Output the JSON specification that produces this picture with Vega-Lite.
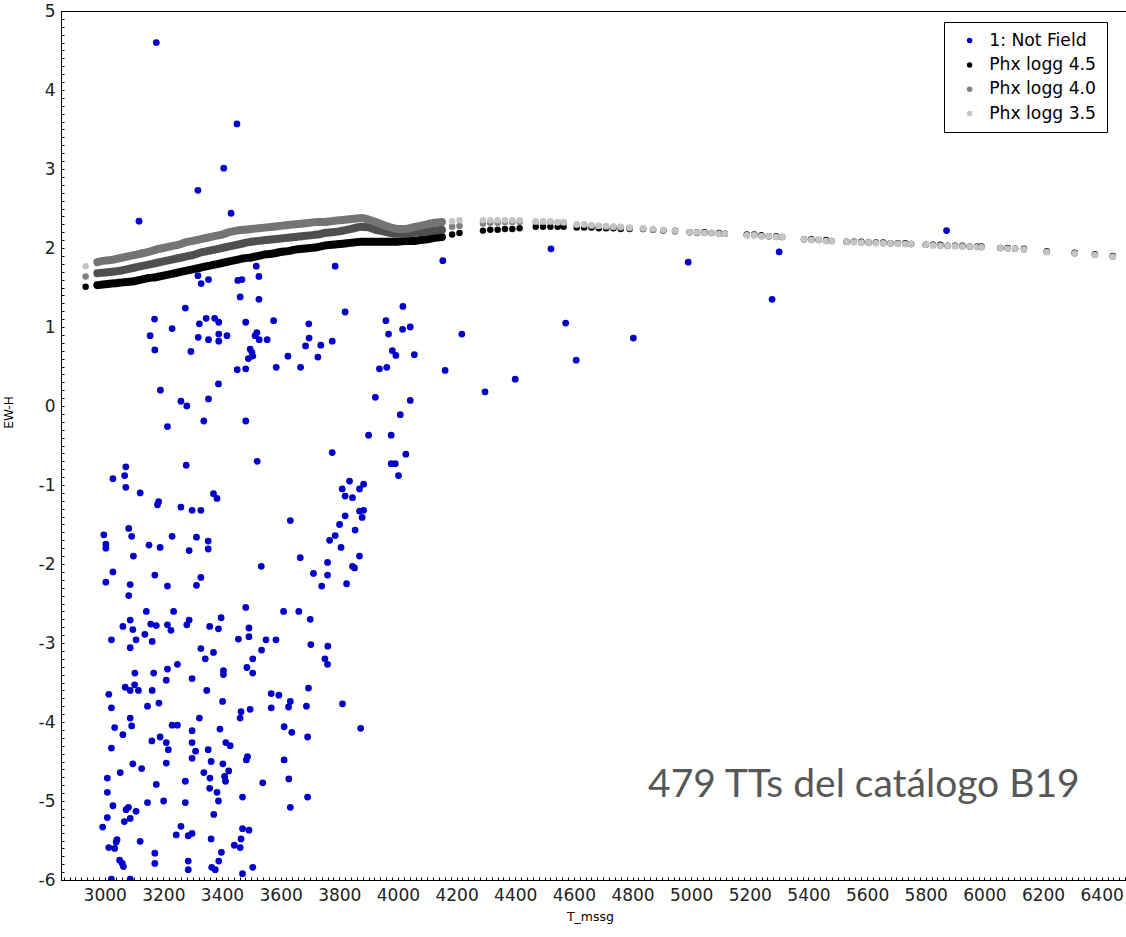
{
  "$schema": "https://vega.github.io/schema/vega-lite/v6.json",
  "autosize": {"type": "none"},
  "padding": {"left": 61, "top": 11, "right": 0, "bottom": 57},
  "width": 1070,
  "height": 869,
  "background": "#ffffff",
  "config": {
    "font": "DejaVu Sans",
    "view": {"stroke": "#000000", "strokeWidth": 1}
  },
  "datasets": {
    "tts": [
      {"T":3176,"e":4.60},{"T":3451,"e":3.57},{"T":3406,"e":3.01},{"T":3318,"e":2.73},{"T":3117,"e":2.34},{"T":3431,"e":2.44},
      {"T":4522,"e":1.99},{"T":4990,"e":1.82},{"T":5300,"e":1.95},{"T":5276,"e":1.35},{"T":4218,"e":0.91},{"T":4572,"e":1.05},
      {"T":4608,"e":0.58},{"T":4803,"e":0.86},{"T":4400,"e":0.34},{"T":4297,"e":0.18},{"T":5871,"e":2.22},
      {"T":3517,"e":1.77},{"T":3786,"e":1.77},{"T":4153,"e":1.84},{"T":3318,"e":1.65},{"T":3354,"e":1.60},{"T":3329,"e":1.55},
      {"T":3454,"e":1.59},{"T":3468,"e":1.60},{"T":3526,"e":1.64},{"T":3462,"e":1.38},{"T":3526,"e":1.35},{"T":3275,"e":1.24},
      {"T":3820,"e":1.19},{"T":4017,"e":1.26},{"T":3170,"e":1.10},{"T":3230,"e":0.98},{"T":3346,"e":1.11},{"T":3375,"e":1.11},
      {"T":3389,"e":1.06},{"T":3323,"e":1.04},{"T":3481,"e":1.06},{"T":3576,"e":1.08},{"T":3696,"e":1.04},{"T":3959,"e":1.08},
      {"T":4042,"e":1.00},{"T":4016,"e":0.97},{"T":3155,"e":0.89},{"T":3319,"e":0.87},{"T":3354,"e":0.84},{"T":3389,"e":0.91},
      {"T":3389,"e":0.82},{"T":3417,"e":0.89},{"T":3513,"e":0.89},{"T":3519,"e":0.93},{"T":3527,"e":0.84},{"T":3554,"e":0.84},
      {"T":3697,"e":0.86},{"T":3685,"e":0.76},{"T":3737,"e":0.77},{"T":3776,"e":0.82},{"T":3968,"e":0.91},{"T":3171,"e":0.71},
      {"T":3294,"e":0.69},{"T":3496,"e":0.72},{"T":3502,"e":0.68},{"T":3490,"e":0.60},{"T":3505,"e":0.63},{"T":3625,"e":0.63},
      {"T":3727,"e":0.62},{"T":3981,"e":0.70},{"T":3993,"e":0.64},{"T":4056,"e":0.65},{"T":3452,"e":0.46},{"T":3481,"e":0.47},
      {"T":3585,"e":0.49},{"T":3668,"e":0.49},{"T":3937,"e":0.47},{"T":3962,"e":0.49},{"T":4161,"e":0.45},{"T":3388,"e":0.28},
      {"T":3190,"e":0.20},{"T":3354,"e":0.09},{"T":3260,"e":0.06},{"T":3280,"e":0.00},{"T":3923,"e":0.11},{"T":4042,"e":0.07},
      {"T":4008,"e":-0.11},{"T":3214,"e":-0.26},{"T":3338,"e":-0.19},{"T":3481,"e":-0.19},
      {"T":3900,"e":-0.37},{"T":3977,"e":-0.37},{"T":3776,"e":-0.59},{"T":4027,"e":-0.61},{"T":3520,"e":-0.70},{"T":3977,"e":-0.73},
      {"T":3991,"e":-0.73},{"T":4002,"e":-0.88},{"T":3072,"e":-0.77},{"T":3068,"e":-0.88},{"T":3028,"e":-0.92},{"T":3072,"e":-1.03},
      {"T":3278,"e":-0.75},{"T":3121,"e":-1.10},{"T":3371,"e":-1.11},{"T":3383,"e":-1.17},{"T":3184,"e":-1.21},{"T":3180,"e":-1.25},
      {"T":3260,"e":-1.28},{"T":3298,"e":-1.32},{"T":3328,"e":-1.32},{"T":3835,"e":-0.95},{"T":3810,"e":-1.05},{"T":3883,"e":-0.99},
      {"T":3869,"e":-1.05},{"T":3820,"e":-1.14},{"T":3845,"e":-1.16},{"T":3869,"e":-1.33},{"T":3883,"e":-1.32},{"T":3878,"e":-1.41},
      {"T":3820,"e":-1.39},{"T":3801,"e":-1.50},{"T":3633,"e":-1.45},{"T":3854,"e":-1.57},{"T":3786,"e":-1.64},{"T":3767,"e":-1.70},
      {"T":3806,"e":-1.79},{"T":3869,"e":-1.90},{"T":3667,"e":-1.92},{"T":3534,"e":-2.03},{"T":3845,"e":-2.03},{"T":3852,"e":-2.05},
      {"T":3760,"e":-1.98},{"T":3712,"e":-2.12},{"T":3760,"e":-2.14},{"T":3740,"e":-2.28},{"T":3825,"e":-2.25},{"T":2997,"e":-1.63},
      {"T":3004,"e":-1.75},{"T":3004,"e":-1.80},{"T":3082,"e":-1.55},{"T":3092,"e":-1.65},{"T":3098,"e":-1.90},{"T":3028,"e":-2.10},
      {"T":3004,"e":-2.23},{"T":3087,"e":-2.26},{"T":3082,"e":-2.40},{"T":3151,"e":-1.76},{"T":3189,"e":-1.79},{"T":3230,"e":-1.65},
      {"T":3288,"e":-1.83},{"T":3313,"e":-1.66},{"T":3353,"e":-1.71},{"T":3353,"e":-1.81},{"T":3171,"e":-2.14},{"T":3214,"e":-2.28},
      {"T":3313,"e":-2.27},{"T":3328,"e":-2.17},{"T":3481,"e":-2.55},{"T":3142,"e":-2.60},{"T":3235,"e":-2.60},{"T":3610,"e":-2.60},
      {"T":3662,"e":-2.60},{"T":3397,"e":-2.68},{"T":3701,"e":-2.70},{"T":3087,"e":-2.71},{"T":3288,"e":-2.71},
      {"T":3062,"e":-2.79},{"T":3096,"e":-2.83},{"T":3157,"e":-2.76},{"T":3176,"e":-2.78},{"T":3214,"e":-2.77},{"T":3226,"e":-2.84},
      {"T":3280,"e":-2.77},{"T":3358,"e":-2.79},{"T":3388,"e":-2.82},{"T":3492,"e":-2.81},{"T":3023,"e":-2.96},{"T":3137,"e":-2.89},
      {"T":3107,"e":-2.96},{"T":3162,"e":-2.98},{"T":3087,"e":-3.06},{"T":3456,"e":-2.95},{"T":3492,"e":-2.92},{"T":3550,"e":-2.96},
      {"T":3584,"e":-2.96},{"T":3703,"e":-3.02},{"T":3761,"e":-3.04},{"T":3328,"e":-3.07},{"T":3371,"e":-3.12},{"T":3535,"e":-3.09},
      {"T":3343,"e":-3.20},{"T":3505,"e":-3.20},{"T":3751,"e":-3.20},{"T":3760,"e":-3.27},{"T":3248,"e":-3.27},{"T":3214,"e":-3.33},
      {"T":3485,"e":-3.31},{"T":3103,"e":-3.38},{"T":3167,"e":-3.38},{"T":3405,"e":-3.35},{"T":3405,"e":-3.40},{"T":3505,"e":-3.38},
      {"T":3210,"e":-3.47},{"T":3298,"e":-3.45},{"T":3070,"e":-3.56},{"T":3102,"e":-3.53},{"T":3087,"e":-3.60},{"T":3115,"e":-3.60},
      {"T":3162,"e":-3.60},{"T":3348,"e":-3.60},{"T":3695,"e":-3.57},{"T":3014,"e":-3.65},{"T":3568,"e":-3.64},{"T":3594,"e":-3.66},
      {"T":3633,"e":-3.74},{"T":3627,"e":-3.81},{"T":3402,"e":-3.74},{"T":3023,"e":-3.82},{"T":3146,"e":-3.80},{"T":3185,"e":-3.76},
      {"T":3568,"e":-3.82},{"T":3688,"e":-3.80},{"T":3496,"e":-3.84},{"T":3465,"e":-3.87},{"T":3462,"e":-3.95},{"T":3811,"e":-3.77},
      {"T":3087,"e":-3.95},{"T":3323,"e":-3.95},{"T":3034,"e":-4.07},{"T":3092,"e":-4.05},{"T":3230,"e":-4.04},{"T":3248,"e":-4.04},
      {"T":3298,"e":-4.11},{"T":3393,"e":-4.09},{"T":3612,"e":-4.06},{"T":3638,"e":-4.13},{"T":3873,"e":-4.08},{"T":3692,"e":-4.19},
      {"T":3062,"e":-4.16},{"T":3161,"e":-4.24},{"T":3189,"e":-4.19},{"T":3210,"e":-4.26},{"T":3217,"e":-4.35},{"T":3298,"e":-4.26},
      {"T":3310,"e":-4.37},{"T":3413,"e":-4.26},{"T":3428,"e":-4.30},{"T":3353,"e":-4.35},{"T":3298,"e":-4.46},{"T":3023,"e":-4.33},
      {"T":3487,"e":-4.44},{"T":3483,"e":-4.48},{"T":3612,"e":-4.48},{"T":3096,"e":-4.53},{"T":3126,"e":-4.59},{"T":3210,"e":-4.52},
      {"T":3363,"e":-4.50},{"T":3403,"e":-4.53},{"T":3053,"e":-4.64},{"T":3009,"e":-4.71},{"T":3176,"e":-4.79},{"T":3275,"e":-4.75},
      {"T":3338,"e":-4.64},{"T":3359,"e":-4.71},{"T":3409,"e":-4.69},{"T":3423,"e":-4.62},{"T":3412,"e":-4.75},{"T":3539,"e":-4.77},
      {"T":3628,"e":-4.72},{"T":3009,"e":-4.89},{"T":3358,"e":-4.84},{"T":3383,"e":-4.89},{"T":3028,"e":-5.06},{"T":3146,"e":-5.02},
      {"T":3201,"e":-5.00},{"T":3275,"e":-5.02},{"T":3388,"e":-5.00},{"T":3470,"e":-4.95},{"T":3692,"e":-4.95},{"T":3633,"e":-5.08},
      {"T":3081,"e":-5.08},{"T":3073,"e":-5.11},{"T":3107,"e":-5.13},{"T":3009,"e":-5.21},{"T":3087,"e":-5.22},{"T":3067,"e":-5.26},
      {"T":3372,"e":-5.17},{"T":2993,"e":-5.33},{"T":3260,"e":-5.32},{"T":3244,"e":-5.43},{"T":3285,"e":-5.44},{"T":3298,"e":-5.41},
      {"T":3470,"e":-5.35},{"T":3492,"e":-5.37},{"T":3363,"e":-5.48},{"T":3042,"e":-5.49},{"T":3039,"e":-5.52},{"T":3121,"e":-5.51},
      {"T":3014,"e":-5.59},{"T":3034,"e":-5.60},{"T":3442,"e":-5.56},{"T":3462,"e":-5.59},{"T":3465,"e":-5.48},{"T":3171,"e":-5.66},
      {"T":3398,"e":-5.65},{"T":3051,"e":-5.75},{"T":3060,"e":-5.79},{"T":3064,"e":-5.83},{"T":3171,"e":-5.79},{"T":3285,"e":-5.76},
      {"T":3285,"e":-5.87},{"T":3389,"e":-5.76},{"T":3365,"e":-5.84},{"T":3377,"e":-5.87},{"T":3505,"e":-5.84},{"T":3470,"e":-5.92},
      {"T":3023,"e":-5.99},{"T":3087,"e":-5.99}
    ],
    "phx": [
      {"T":2935,"a":1.51,"b":1.64,"c":1.77},
      {"T":2975,"a":1.53,"b":1.68,"c":1.82},{"T":3000,"a":1.54,"b":1.69,"c":1.84},{"T":3025,"a":1.55,"b":1.70,"c":1.85},
      {"T":3050,"a":1.56,"b":1.71,"c":1.87},{"T":3075,"a":1.57,"b":1.73,"c":1.89},{"T":3100,"a":1.58,"b":1.75,"c":1.91},
      {"T":3125,"a":1.60,"b":1.77,"c":1.93},{"T":3150,"a":1.62,"b":1.79,"c":1.95},{"T":3175,"a":1.63,"b":1.81,"c":1.98},
      {"T":3200,"a":1.65,"b":1.83,"c":2.00},{"T":3225,"a":1.67,"b":1.85,"c":2.02},{"T":3250,"a":1.69,"b":1.87,"c":2.04},
      {"T":3275,"a":1.71,"b":1.89,"c":2.07},{"T":3300,"a":1.73,"b":1.91,"c":2.09},{"T":3325,"a":1.75,"b":1.94,"c":2.11},
      {"T":3350,"a":1.77,"b":1.96,"c":2.13},{"T":3375,"a":1.79,"b":1.98,"c":2.15},{"T":3400,"a":1.81,"b":2.00,"c":2.17},
      {"T":3425,"a":1.83,"b":2.02,"c":2.20},{"T":3450,"a":1.85,"b":2.04,"c":2.22},{"T":3475,"a":1.87,"b":2.06,"c":2.23},
      {"T":3500,"a":1.88,"b":2.08,"c":2.24},{"T":3525,"a":1.90,"b":2.09,"c":2.25},{"T":3550,"a":1.92,"b":2.10,"c":2.26},
      {"T":3575,"a":1.93,"b":2.11,"c":2.27},{"T":3600,"a":1.95,"b":2.12,"c":2.28},{"T":3625,"a":1.96,"b":2.13,"c":2.29},
      {"T":3650,"a":1.98,"b":2.14,"c":2.30},{"T":3675,"a":1.99,"b":2.15,"c":2.31},{"T":3700,"a":2.00,"b":2.16,"c":2.32},
      {"T":3725,"a":2.01,"b":2.17,"c":2.33},{"T":3750,"a":2.03,"b":2.19,"c":2.33},{"T":3775,"a":2.04,"b":2.20,"c":2.34},
      {"T":3800,"a":2.05,"b":2.21,"c":2.35},{"T":3825,"a":2.06,"b":2.23,"c":2.36},{"T":3850,"a":2.07,"b":2.25,"c":2.37},
      {"T":3875,"a":2.08,"b":2.27,"c":2.38},{"T":3900,"a":2.08,"b":2.26,"c":2.36},{"T":3925,"a":2.08,"b":2.23,"c":2.33},
      {"T":3950,"a":2.08,"b":2.21,"c":2.29},{"T":3975,"a":2.08,"b":2.19,"c":2.26},{"T":4000,"a":2.08,"b":2.18,"c":2.24},
      {"T":4025,"a":2.09,"b":2.18,"c":2.24},{"T":4050,"a":2.09,"b":2.19,"c":2.26},{"T":4075,"a":2.10,"b":2.20,"c":2.28},
      {"T":4100,"a":2.11,"b":2.21,"c":2.30},{"T":4125,"a":2.13,"b":2.22,"c":2.32},{"T":4150,"a":2.14,"b":2.23,"c":2.33},
      {"T":4185,"a":2.17,"b":2.27,"c":2.34},{"T":4210,"a":2.19,"b":2.28,"c":2.35},
      {"T":4290,"a":2.22,"b":2.31,"c":2.35},{"T":4315,"a":2.23,"b":2.32,"c":2.35},{"T":4340,"a":2.23,"b":2.32,"c":2.35},
      {"T":4365,"a":2.24,"b":2.33,"c":2.35},{"T":4390,"a":2.24,"b":2.33,"c":2.35},{"T":4415,"a":2.25,"b":2.33,"c":2.35},
      {"T":4470,"a":2.27,"b":2.33,"c":2.34},{"T":4495,"a":2.27,"b":2.33,"c":2.34},{"T":4520,"a":2.27,"b":2.33,"c":2.34},
      {"T":4545,"a":2.27,"b":2.32,"c":2.33},{"T":4565,"a":2.27,"b":2.32,"c":2.33},
      {"T":4610,"a":2.26,"b":2.29,"c":2.30},{"T":4635,"a":2.26,"b":2.29,"c":2.30},{"T":4660,"a":2.26,"b":2.28,"c":2.29},
      {"T":4685,"a":2.25,"b":2.28,"c":2.28},{"T":4710,"a":2.25,"b":2.27,"c":2.28},{"T":4735,"a":2.25,"b":2.27,"c":2.27},
      {"T":4760,"a":2.24,"b":2.26,"c":2.27},{"T":4790,"a":2.24,"b":2.25,"c":2.26},
      {"T":4836,"a":2.24,"b":2.24,"c":2.25},{"T":4870,"a":2.23,"b":2.23,"c":2.24},{"T":4905,"a":2.22,"b":2.22,"c":2.23},
      {"T":4945,"a":2.22,"b":2.21,"c":2.22},
      {"T":4995,"a":2.20,"b":2.20,"c":2.20},{"T":5020,"a":2.20,"b":2.19,"c":2.20},{"T":5045,"a":2.20,"b":2.19,"c":2.19},
      {"T":5070,"a":2.19,"b":2.19,"c":2.19},{"T":5095,"a":2.19,"b":2.18,"c":2.18},{"T":5115,"a":2.18,"b":2.18,"c":2.18},
      {"T":5190,"a":2.17,"b":2.16,"c":2.16},{"T":5215,"a":2.17,"b":2.16,"c":2.16},{"T":5240,"a":2.16,"b":2.15,"c":2.15},
      {"T":5265,"a":2.15,"b":2.15,"c":2.15},{"T":5290,"a":2.15,"b":2.14,"c":2.14},{"T":5310,"a":2.14,"b":2.14,"c":2.14},
      {"T":5385,"a":2.11,"b":2.11,"c":2.11},{"T":5410,"a":2.11,"b":2.10,"c":2.10},{"T":5435,"a":2.10,"b":2.10,"c":2.10},
      {"T":5460,"a":2.10,"b":2.09,"c":2.09},{"T":5480,"a":2.09,"b":2.09,"c":2.09},
      {"T":5530,"a":2.08,"b":2.08,"c":2.08},{"T":5555,"a":2.08,"b":2.08,"c":2.07},{"T":5580,"a":2.08,"b":2.07,"c":2.07},
      {"T":5605,"a":2.07,"b":2.07,"c":2.07},{"T":5630,"a":2.07,"b":2.07,"c":2.06},{"T":5655,"a":2.07,"b":2.06,"c":2.06},
      {"T":5680,"a":2.06,"b":2.06,"c":2.06},{"T":5705,"a":2.06,"b":2.06,"c":2.05},{"T":5730,"a":2.06,"b":2.05,"c":2.05},
      {"T":5750,"a":2.05,"b":2.05,"c":2.05},
      {"T":5800,"a":2.04,"b":2.04,"c":2.04},{"T":5825,"a":2.04,"b":2.04,"c":2.03},{"T":5850,"a":2.04,"b":2.03,"c":2.03},
      {"T":5875,"a":2.03,"b":2.03,"c":2.03},{"T":5900,"a":2.03,"b":2.03,"c":2.02},{"T":5925,"a":2.03,"b":2.02,"c":2.02},
      {"T":5950,"a":2.02,"b":2.02,"c":2.02},{"T":5975,"a":2.02,"b":2.02,"c":2.01},{"T":5990,"a":2.02,"b":2.01,"c":2.01},
      {"T":6055,"a":2.00,"b":2.00,"c":2.00},{"T":6080,"a":2.00,"b":1.99,"c":1.99},{"T":6105,"a":1.99,"b":1.99,"c":1.99},
      {"T":6135,"a":1.99,"b":1.98,"c":1.98},
      {"T":6213,"a":1.96,"b":1.95,"c":1.95},{"T":6308,"a":1.94,"b":1.93,"c":1.93},{"T":6377,"a":1.92,"b":1.91,"c":1.91},
      {"T":6438,"a":1.90,"b":1.89,"c":1.89}
    ]
  },
  "layer": [
    {
      "data": {"name": "phx"},
      "transform": [{"fold": ["a", "b", "c"], "as": ["model", "ew"]}],
      "mark": {"type": "point", "filled": true, "shape": "circle", "size": 42, "opacity": 1},
      "encoding": {
        "x": {
          "field": "T", "type": "quantitative",
          "scale": {"domain": [2851, 6500], "nice": false, "zero": false},
          "axis": {
            "orient": "bottom", "title": "T_mssg", "grid": false, "tickCount": 400,
            "values": [2860,2880,2900,2920,2940,2960,2980,
              3000,3020,3040,3060,3080,3100,3120,3140,3160,3180,3200,3220,3240,3260,3280,3300,3320,3340,3360,3380,
              3400,3420,3440,3460,3480,3500,3520,3540,3560,3580,3600,3620,3640,3660,3680,3700,3720,3740,3760,3780,
              3800,3820,3840,3860,3880,3900,3920,3940,3960,3980,
              4000,4020,4040,4060,4080,4100,4120,4140,4160,4180,4200,4220,4240,4260,4280,4300,4320,4340,4360,4380,
              4400,4420,4440,4460,4480,4500,4520,4540,4560,4580,4600,4620,4640,4660,4680,4700,4720,4740,4760,4780,
              4800,4820,4840,4860,4880,4900,4920,4940,4960,4980,
              5000,5020,5040,5060,5080,5100,5120,5140,5160,5180,5200,5220,5240,5260,5280,5300,5320,5340,5360,5380,
              5400,5420,5440,5460,5480,5500,5520,5540,5560,5580,5600,5620,5640,5660,5680,5700,5720,5740,5760,5780,
              5800,5820,5840,5860,5880,5900,5920,5940,5960,5980,
              6000,6020,6040,6060,6080,6100,6120,6140,6160,6180,6200,6220,6240,6260,6280,6300,6320,6340,6360,6380,
              6400,6420,6440,6460,6480,6500],
            "tickSize": -3, "tickColor": "#000000", "domainColor": "#000000",
            "labelExpr": "datum.value % 200 === 0 ? '' + datum.value : ''",
            "labelFont": "DejaVu Sans", "labelFontSize": 17, "labelColor": "#222222", "labelPadding": 10,
            "labelFlush": false, "labelOverlap": false,
            "titleFont": "DejaVu Sans", "titleFontSize": 12.5, "titleFontWeight": "normal", "titleColor": "#000000",
            "titlePadding": 7, "titleX": 529
          }
        },
        "y": {
          "field": "ew", "type": "quantitative",
          "scale": {"domain": [-6, 5], "nice": false, "zero": false},
          "axis": {
            "orient": "left", "title": "EW-H", "grid": false, "tickCount": 400,
            "values": [-6,-5.9,-5.8,-5.7,-5.6,-5.5,-5.4,-5.3,-5.2,-5.1,
              -5,-4.9,-4.8,-4.7,-4.6,-4.5,-4.4,-4.3,-4.2,-4.1,
              -4,-3.9,-3.8,-3.7,-3.6,-3.5,-3.4,-3.3,-3.2,-3.1,
              -3,-2.9,-2.8,-2.7,-2.6,-2.5,-2.4,-2.3,-2.2,-2.1,
              -2,-1.9,-1.8,-1.7,-1.6,-1.5,-1.4,-1.3,-1.2,-1.1,
              -1,-0.9,-0.8,-0.7,-0.6,-0.5,-0.4,-0.3,-0.2,-0.1,
              0,0.1,0.2,0.3,0.4,0.5,0.6,0.7,0.8,0.9,
              1,1.1,1.2,1.3,1.4,1.5,1.6,1.7,1.8,1.9,
              2,2.1,2.2,2.3,2.4,2.5,2.6,2.7,2.8,2.9,
              3,3.1,3.2,3.3,3.4,3.5,3.6,3.7,3.8,3.9,
              4,4.1,4.2,4.3,4.4,4.5,4.6,4.7,4.8,4.9,5],
            "tickSize": -3, "tickColor": "#000000", "domainColor": "#000000",
            "labelExpr": "abs(datum.value - round(datum.value)) < 0.001 ? '' + round(datum.value) : ''",
            "labelFont": "DejaVu Sans", "labelFontSize": 17, "labelColor": "#222222", "labelPadding": 9,
            "labelFlush": false, "labelOverlap": false,
            "titleFont": "DejaVu Sans", "titleFontSize": 12, "titleFontWeight": "normal", "titleColor": "#000000",
            "titleX": -46, "titleY": 401
          }
        },
        "color": {
          "field": "model", "type": "nominal",
          "scale": {"domain": ["n", "a", "b", "c"], "range": ["#0000c8", "#000000", "#808080", "#c4c4c4"]},
          "legend": {
            "orient": "none", "legendX": 883, "legendY": 11,
            "title": null, "padding": 10, "strokeColor": "#000000", "fillColor": "#ffffff",
            "symbolType": "circle", "symbolSize": 30, "symbolOffset": 7, "symbolStrokeWidth": 0,
            "labelFont": "DejaVu Sans", "labelFontSize": 17.2, "labelColor": "#000000", "labelOffset": 11,
            "rowPadding": 6.3, "cornerRadius": 0,
            "labelExpr": "datum.label === 'n' ? '1: Not Field' : datum.label === 'a' ? 'Phx logg 4.5' : datum.label === 'b' ? 'Phx logg 4.0' : 'Phx logg 3.5'"
          }
        }
      }
    },
    {
      "data": {"name": "phx"},
      "transform": [
        {"fold": ["a", "b", "c"], "as": ["model", "ew"]},
        {"filter": "datum.T >= 2970 && datum.T <= 4150"}
      ],
      "mark": {"type": "line", "strokeWidth": 8, "strokeCap": "round", "strokeJoin": "round", "interpolate": "monotone"},
      "encoding": {
        "x": {"field": "T", "type": "quantitative"},
        "y": {"field": "ew", "type": "quantitative"},
        "stroke": {
          "field": "model", "type": "nominal",
          "scale": {"domain": ["a", "b", "c"], "range": ["#000000", "#4f4f4f", "#747474"]},
          "legend": null
        }
      }
    },
    {
      "data": {"name": "tts"},
      "mark": {"type": "point", "filled": true, "shape": "circle", "size": 46, "opacity": 1, "clip": true},
      "encoding": {
        "x": {"field": "T", "type": "quantitative"},
        "y": {"field": "e", "type": "quantitative"},
        "color": {
          "datum": "n", "type": "nominal",
          "scale": {"domain": ["n", "a", "b", "c"], "range": ["#0000c8", "#000000", "#808080", "#c4c4c4"]}
        }
      }
    },
    {
      "data": {"values": [{}]},
      "mark": {"type": "text", "font": "Lato", "fontSize": 39, "color": "#575757", "align": "right", "baseline": "alphabetic"},
      "encoding": {
        "x": {"datum": 6325, "type": "quantitative"},
        "y": {"datum": -4.95, "type": "quantitative"},
        "text": {"value": "479 TTs del catálogo B19"}
      }
    }
  ]
}
